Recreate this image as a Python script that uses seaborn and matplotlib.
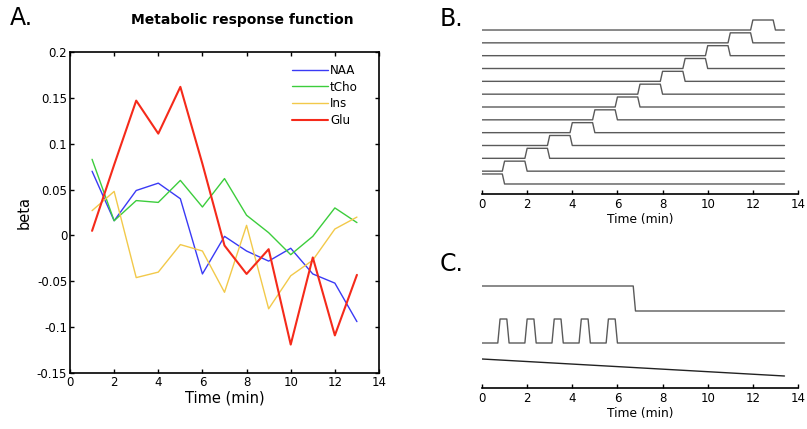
import numpy as np
import pandas as pd
import matplotlib
matplotlib.use("Agg")
import matplotlib.pyplot as plt
import seaborn as sns
from matplotlib.ticker import FuncFormatter

# ---- data: metabolic response (beta per minute) ----
time_min = [1, 2, 3, 4, 5, 6, 7, 8, 9, 10, 11, 12, 13]
naa = [0.070, 0.016, 0.049, 0.057, 0.040, -0.042, -0.001, -0.017, -0.028, -0.014, -0.042, -0.052, -0.094]
tcho = [0.083, 0.016, 0.038, 0.036, 0.060, 0.031, 0.062, 0.022, 0.003, -0.021, -0.001, 0.030, 0.014]
ins = [0.027, 0.048, -0.046, -0.040, -0.010, -0.017, -0.062, 0.011, -0.080, -0.044, -0.027, 0.007, 0.020]
glu = [0.005, 0.077, 0.147, 0.111, 0.162, 0.078, -0.011, -0.042, -0.015, -0.119, -0.024, -0.109, -0.043]
metabolites = ["NAA", "tCho", "Ins", "Glu"]

# ---- design: one boxcar per minute block (panel B) ----
block_onsets = [0, 1, 2, 3, 4, 5, 6, 7, 8, 9, 10, 11, 12]
block_duration = 1.0

# ---- design: task regressors (panel C) ----
state_change = 6.8
pulse_onsets = [0.8, 2.0, 3.2, 4.4, 5.6]
pulse_duration = 0.4
scan_end = 13.4

palette = {"NAA": "#3a3af5", "tCho": "#3ccd3c", "Ins": "#f2c94a", "Glu": "#f52a1a"}
widths = {"NAA": 1.0, "tCho": 1.0, "Ins": 1.0, "Glu": 1.5}
GREY = "#5a5a5a"


def box(t, on, off, ramp=0.1):
    up = np.clip((t - (on - ramp)) / ramp, 0, 1)
    down = np.clip((off - t) / ramp, 0, 1)
    return np.minimum(up, down)


sns.set_style("white")
plt.rcParams["font.family"] = ["DejaVu Sans"]
plt.rcParams["axes.unicode_minus"] = False
for key in ("text.color", "axes.labelcolor", "xtick.color", "ytick.color"):
    plt.rcParams[key] = "black"

fig = plt.figure(figsize=(8.07, 4.29), dpi=100)

# -----------------------------
# Panel A
# -----------------------------
axA = fig.add_axes([70 / 807, 56 / 429, 309 / 807, 321 / 429])
df = pd.DataFrame({
    "time": time_min * 4,
    "beta": naa + tcho + ins + glu,
    "met": np.repeat(metabolites, len(time_min)),
})
for m in metabolites:
    sns.lineplot(data=df[df.met == m], x="time", y="beta", color=palette[m],
                 linewidth=widths[m], label=m, ax=axA)

axA.set_xlim(0, 14)
axA.set_ylim(-0.15, 0.2)
axA.set_xticks(np.arange(0, 15, 2))
axA.set_yticks(np.arange(-0.15, 0.201, 0.05))
axA.yaxis.set_major_formatter(FuncFormatter(lambda v, p: "%g" % round(v, 2)))
axA.tick_params(direction="in", length=3, width=1, top=True, right=True,
                bottom=True, left=True, labelsize=8.5, pad=2, colors="black")
for s in axA.spines.values():
    s.set_color("black")
    s.set_linewidth(1.2)
axA.set_xlabel("Time (min)", fontsize=10.5, labelpad=1)
axA.set_ylabel("beta", fontsize=10.5, labelpad=4)
leg = axA.legend(loc="upper right", frameon=False, fontsize=8.6, handlelength=3.0,
                 handletextpad=0.2, labelspacing=0.3, borderaxespad=0.6,
                 bbox_to_anchor=(0.97, 1.0))
fig.text(242 / 807, 1 - 20 / 429, "Metabolic response function", ha="center",
         va="center", fontsize=10, fontweight="bold")
fig.text(10 / 807, 1 - 18 / 429, "A.", fontsize=17, va="center", ha="left")

# -----------------------------
# Panel B: block design matrix
# -----------------------------
t = np.round(np.arange(0, scan_end + 0.001, 0.01), 3)
axB = fig.add_axes([482 / 807, 235 / 429, 316 / 807, 179 / 429])
for k, on in enumerate(block_onsets):
    axB.plot(t, k + 0.78 * box(t, on, on + block_duration), color=GREY, lw=1.0)
axB.set_xlim(0, 14)
axB.set_ylim(-0.78, 13.17)
axB.set_yticks([])
axB.set_xticks(np.arange(0, 15, 2))
axB.set_xlabel("Time (min)", fontsize=8.8, labelpad=1)
fig.text(440 / 807, 1 - 19 / 429, "B.", fontsize=17, va="center", ha="left")

# -----------------------------
# Panel C: task regressors
# -----------------------------
axC = fig.add_axes([482 / 807, 41 / 429, 316 / 807, 108 / 429])
state = box(t, -1.0, state_change)
pulses = np.zeros_like(t)
for on in pulse_onsets:
    pulses = np.maximum(pulses, box(t, on, on + pulse_duration))
drift = 1 - t / scan_end
axC.plot(t, 77 + 25 * state, color=GREY, lw=1.0)
axC.plot(t, 45 + 24 * pulses, color=GREY, lw=1.0)
axC.plot(t, 12 + 17 * drift, color="#222222", lw=1.0)
axC.set_xlim(0, 14)
axC.set_ylim(0, 108)
axC.set_yticks([])
axC.set_xticks(np.arange(0, 15, 2))
axC.set_xlabel("Time (min)", fontsize=8.8, labelpad=1)
fig.text(440 / 807, 1 - 264 / 429, "C.", fontsize=17, va="center", ha="left")

for ax in (axB, axC):
    for side in ("left", "top", "right"):
        ax.spines[side].set_visible(False)
    ax.spines["bottom"].set_color("black")
    ax.spines["bottom"].set_linewidth(1.2)
    ax.tick_params(axis="x", direction="in", length=3, width=1, bottom=True,
                   labelsize=8.5, pad=3, colors="black")
    ax.patch.set_alpha(0)

fig.savefig("out.png", dpi=100)
